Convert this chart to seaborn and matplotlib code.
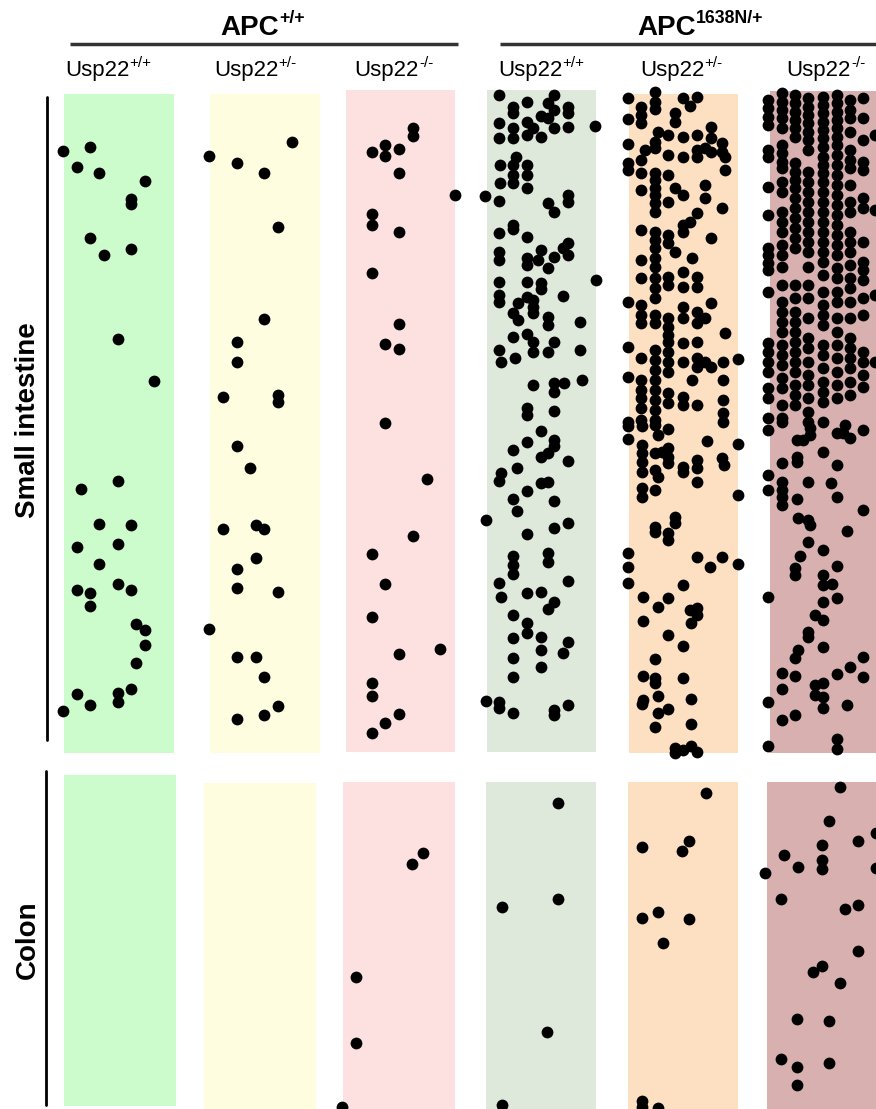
import matplotlib
matplotlib.use("Agg")
import matplotlib.pyplot as plt
import pandas as pd
import seaborn as sns
from matplotlib.patches import Rectangle

sns.set_theme(style="white")
plt.rcParams["font.family"] = ["Liberation Sans", "DejaVu Sans"]
plt.rcParams["text.color"] = "black"

# ---- groups -------------------------------------------------------------
apc_labels = [("APC", "+/+"), ("APC", "1638N/+")]
usp22_labels = [("Usp22", "+/+"), ("Usp22", "+/-"), ("Usp22", "-/-")]
tissues = ["Small intestine", "Colon"]
lane_colors = ["#ccfccb", "#fefde0", "#fde0e0", "#dee8db", "#fddfc1", "#d7b0af"]

# ---- tumour positions (x across the opened strip, y along the gut) -----
si_1 = [(63,151),(90,147),(77,167),(99,173),(145,181),(131,199),(131,204),(90,238),(104,255),
        (131,249),(118,339),(154,381),(81,489),(118,481),(99,524),(131,525),(77,547),(118,544),
        (99,564),(77,590),(90,593),(90,606),(118,584),(131,590),(136,624),(145,630),(145,645),
        (136,663),(77,694),(90,705),(118,693),(118,702),(131,689),(63,711)]

si_2 = [(209,156),(237,163),(264,173),(292,142),(278,227),(264,319),(237,342),(237,362),
        (223,397),(278,395),(278,402),(237,446),(250,468),(223,529),(256,525),(264,529),
        (256,558),(237,569),(237,588),(278,592),(209,629),(237,657),(256,657),(264,677),
        (278,706),(264,715),(237,719)]

si_3 = [(413,128),(413,136),(385,145),(385,156),(372,152),(399,149),(399,173),(455,195),
        (372,214),(372,225),(399,232),(372,273),(399,324),(385,344),(399,349),(385,423),
        (427,479),(413,536),(372,554),(385,584),(372,617),(440,649),(399,654),(372,683),
        (372,696),(399,714),(385,723),(372,733)]

si_4 = [(499,95),(513,107),(513,113),(527,102),(554,95),(548,103),(554,110),(568,107),(568,113),
        (541,116),(499,123),(513,128),(527,122),(533,128),(548,118),(554,128),(568,127),(595,126),
        (499,138),(513,138),(527,135),(541,137),(516,157),(500,165),(513,165),(527,165),(527,175),
        (513,175),(500,183),(513,183),(527,188),(485,196),(499,201),(548,203),(554,212),(568,195),
        (568,202),(513,225),(513,229),(499,233),(527,237),(499,252),(499,260),(527,258),(527,265),
        (541,250),(538,260),(554,257),(548,268),(568,243),(568,255),(563,248),(596,280),(499,282),
        (527,282),(541,283),(541,289),(499,295),(499,302),(527,297),(533,300),(533,307),(533,313),
        (518,303),(513,313),(518,320),(563,296),(548,317),(548,325),(580,322),(513,337),(527,334),
        (533,342),(533,352),(554,342),(548,352),(580,350),(499,350),(501,362),(515,358),(533,385),
        (554,383),(554,392),(564,383),(582,380),(527,408),(527,415),(554,411),(541,431),(527,442),
        (513,450),(554,440),(554,446),(548,453),(541,457),(568,461),(501,473),(499,481),(517,468),
        (541,483),(548,482),(527,491),(513,499),(517,511),(554,501),(486,520),(527,534),(554,528),
        (568,523),(513,556),(513,565),(513,574),(548,553),(548,562),(499,583),(501,597),(527,593),
        (541,592),(568,581),(554,602),(548,609),(513,615),(527,623),(527,633),(513,638),(541,637),
        (541,650),(568,642),(563,653),(513,658),(541,667),(513,677),(486,701),(499,702),(499,708),
        (513,713),(554,710),(554,715),(568,705)]

si_5 = [(628,98),(655,92),(655,102),(655,109),(683,98),(697,97),(690,106),(641,107),(641,115),
        (641,123),(628,119),(675,113),(675,122),(711,127),(658,132),(668,135),(683,137),(697,135),
        (711,138),(655,142),(628,144),(645,150),(655,148),(668,155),(683,157),(697,150),(697,157),
        (705,148),(711,152),(722,143),(722,152),(725,157),(628,163),(628,170),(641,160),(641,173),
        (655,173),(655,180),(655,188),(655,195),(655,203),(655,212),(668,175),(725,170),(641,190),
        (675,188),(683,195),(668,202),(705,185),(705,198),(722,208),(697,213),(690,222),(683,225),
        (641,230),(655,232),(655,240),(655,248),(655,258),(655,267),(668,235),(668,243),(683,232),
        (675,252),(711,238),(641,260),(692,258),(641,278),(655,278),(655,288),(655,298),(668,277),
        (668,285),(683,272),(697,277),(697,287),(683,287),(628,302),(641,305),(641,315),(641,323),
        (655,315),(655,323),(668,318),(668,327),(668,335),(683,307),(683,318),(697,312),(711,303),
        (705,318),(697,323),(725,333),(628,347),(641,358),(655,350),(655,360),(655,370),(655,380),
        (655,390),(655,400),(655,410),(655,420),(668,342),(668,352),(668,362),(683,343),(697,342),
        (683,362),(697,358),(697,367),(705,362),(711,367),(723,362),(738,359),(628,377),(641,380),
        (641,390),(668,372),(692,380),(723,380),(668,393),(668,403),(683,397),(697,405),(641,398),
        (641,408),(723,400),(628,422),(641,420),(723,413),(723,422),(683,405),
        (628,426),(642,426),(655,425),(658,435),(668,429),(628,439),(707,441),(738,444),(642,445),
        (642,453),(642,462),(655,453),(662,452),(668,448),(668,457),(668,463),(683,467),(683,472),
        (697,460),(697,468),(697,482),(722,458),(724,465),(642,472),(655,470),(658,477),(655,490),
        (642,488),(642,497),(738,495),(675,517),(675,523),(655,527),(655,532),(668,533),(668,540),
        (628,553),(628,567),(628,583),(697,557),(710,567),(722,557),(738,564),(683,585),(643,597),
        (668,598),(658,607),(690,610),(697,608),(697,615),(691,623),(643,621),(668,635),(683,646),
        (655,659),(643,676),(655,678),(655,683),(683,678),(658,696),(643,700),(642,704),(691,699),
        (658,713),(668,709),(655,727),(691,724),(675,748),(675,753),(683,750),(691,746),(697,752)]

si_6 = [(768,100),(768,108),(768,117),(768,125),(768,150),(768,157),(768,187),(768,215),(768,248),
        (768,255),(768,263),(768,270),(768,292),(768,343),(768,352),(768,362),(768,372),(768,388),
        (768,398),(768,418),
        (782,93),(782,102),(782,110),(782,118),(782,128),(782,145),(782,153),(782,162),(782,168),
        (782,182),(782,192),(782,212),(782,222),(782,232),(782,245),(782,255),(782,267),(782,285),
        (782,302),(782,312),(782,322),(782,332),(782,345),(782,355),(782,365),(782,378),(782,388),
        (782,405),(782,418),
        (795,95),(795,103),(795,112),(795,120),(795,128),(795,137),(795,163),(795,172),(795,180),
        (795,188),(795,198),(795,208),(795,218),(795,228),(795,238),(795,248),(795,285),(795,298),
        (795,312),(795,322),(795,332),(795,342),(795,352),(795,362),(795,372),(795,385),(795,395),
        (795,405),
        (808,98),(808,107),(808,115),(808,123),(808,132),(808,140),(808,150),(808,172),(808,182),
        (808,192),(808,202),(808,212),(808,222),(808,232),(808,242),(808,252),(808,267),(808,285),
        (808,298),(808,318),(808,338),(808,348),(808,362),(808,375),(808,385),(808,398),(808,412),
        (823,97),(823,105),(823,113),(823,122),(823,130),(823,138),(823,147),(823,157),(823,165),
        (823,173),(823,182),(823,192),(823,202),(823,212),(823,222),(823,232),(823,242),(823,252),
        (823,262),(823,275),(823,292),(823,305),(823,315),(823,325),(823,345),(823,355),(823,368),
        (823,382),(823,392),(823,402),
        (837,95),(837,103),(837,112),(837,120),(837,128),(837,137),(837,145),(837,155),(837,165),
        (837,175),(837,185),(837,195),(837,205),(837,215),(837,225),(837,235),(837,245),(837,255),
        (837,268),(837,278),(837,292),(837,302),(837,318),(837,332),(837,345),(837,358),(837,372),
        (837,385),(837,398),
        (850,100),(850,110),(850,118),(850,132),(850,150),(850,160),(850,168),(850,185),(850,202),
        (850,212),(850,232),(850,242),(850,252),(850,265),(850,278),(850,288),(850,302),(850,318),
        (850,338),(850,348),(850,358),(850,368),(850,382),(850,395),
        (863,98),(863,118),(863,140),(863,162),(863,170),(863,198),(863,208),(863,242),(863,262),
        (863,270),(863,280),(863,298),(863,315),(863,352),(863,362),(863,375),(863,387),
        (875,135),(875,210),(875,295),(875,362),
        (768,430),(782,422),(797,440),(803,440),(810,435),(810,428),(808,422),(823,422),(837,433),
        (843,433),(850,438),(845,425),(863,430),(823,452),(797,457),(797,462),(782,463),(837,465),
        (768,475),(782,482),(782,490),(782,497),(782,505),(768,490),(808,482),(831,483),(837,497),
        (797,499),(863,510),(798,518),(808,520),(810,525),(847,531),(808,542),(823,550),(800,556),
        (795,568),(795,575),(837,566),(823,575),(823,585),(832,584),(768,597),(823,602),(837,598),
        (815,615),(823,620),(808,632),(808,637),(823,647),(798,650),(795,658),(863,657),(782,673),
        (795,676),(837,674),(850,667),(863,677),(815,685),(823,683),(815,695),(823,697),(782,689),
        (768,702),(823,708),(847,705),(782,720),(795,715),(768,746),(837,739),(837,749)]

colon_1 = []
colon_2 = []
colon_3 = [(423,853),(412,864),(356,977),(356,1043),(342,1107)]
colon_4 = [(558,803),(502,907),(558,899),(547,1032),(502,1105)]
colon_5 = [(706,793),(642,847),(689,841),(682,851),(642,918),(658,912),(689,919),(663,943),
           (642,1101),(642,1107),(658,1108)]
colon_6 = [(840,787),(829,821),(822,845),(858,841),(876,833),(784,855),(798,867),(822,860),
           (822,869),(765,873),(876,868),(781,899),(845,909),(858,905),(858,951),(813,972),
           (822,966),(840,983),(797,1019),(829,1021),(781,1059),(797,1067),(797,1085),(829,1063)]

# ---- long table ---------------------------------------------------------
rows = []
for tissue, groups in (("Small intestine", [si_1, si_2, si_3, si_4, si_5, si_6]),
                       ("Colon", [colon_1, colon_2, colon_3, colon_4, colon_5, colon_6])):
    for g, pts in enumerate(groups):
        for x, y in pts:
            rows.append({"tissue": tissue, "group": g, "x": x, "y": y})
df = pd.DataFrame(rows)

# ---- figure -------------------------------------------------------------
W, H = 876, 1109
fig = plt.figure(figsize=(W / 100, H / 100), dpi=100)
ax = fig.add_axes([0, 0, 1, 1])

# strip backgrounds (left, top, width, height)
si_lanes = [(64, 94, 110, 659), (210, 94, 110, 659), (346, 90, 109, 662),
            (487, 90, 109, 662), (629, 94, 109, 659), (770, 91, 110, 662)]
colon_lanes = [(64, 775, 112, 331), (204, 783, 112, 326), (343, 782, 112, 327),
               (486, 782, 110, 327), (628, 782, 110, 327), (767, 782, 113, 327)]
for lanes in (si_lanes, colon_lanes):
    for (x0, y0, w, h), c in zip(lanes, lane_colors):
        ax.add_patch(Rectangle((x0, y0), w, h, facecolor=c, edgecolor="none", zorder=0))

sns.scatterplot(data=df, x="x", y="y", color="black", s=72, linewidth=0,
                legend=False, ax=ax, zorder=3)

ax.set_xlim(0, W)
ax.set_ylim(H, 0)
ax.axis("off")

renderer = fig.canvas.get_renderer()


def sup_label(xc, baseline, base, sup, size, weight="normal", ratio=0.64, rise=0.42):
    """Centred label with a superscript; one data unit equals one pixel here."""
    t1 = ax.text(0, baseline, base, fontsize=size, fontweight=weight,
                 ha="left", va="baseline")
    t2 = ax.text(0, baseline, sup, fontsize=size * ratio, fontweight=weight,
                 ha="left", va="baseline")
    w1 = t1.get_window_extent(renderer).width
    w2 = t2.get_window_extent(renderer).width
    x0 = xc - (w1 + w2) / 2
    t1.set_x(x0)
    t2.set_x(x0 + w1 + 0.5)
    t2.set_y(baseline - size * 100 / 72 * rise)


# column headers
for (base, sup), xc, (xa, xb) in zip(apc_labels, [262, 700], [(70, 458), (500, 876)]):
    sup_label(xc, 35, base, sup, 20, weight="bold")
    ax.plot([xa, xb], [44, 44], color="#333333", lw=2.5, solid_capstyle="butt")
for i, xc in enumerate([108, 255, 394, 541, 681, 826]):
    base, sup = usp22_labels[i % 3]
    sup_label(xc, 76, base, sup, 16, ratio=0.68)

# row labels
ax.plot([47, 47], [97, 740], color="black", lw=2)
ax.plot([46, 46], [771, 1105], color="black", lw=2)
ax.text(28, 420, tissues[0], rotation=90, ha="center", va="center",
        fontsize=20, fontweight="bold")
ax.text(28, 940, tissues[1], rotation=90, ha="center", va="center",
        fontsize=20, fontweight="bold")

fig.savefig("out.png", dpi=100)
